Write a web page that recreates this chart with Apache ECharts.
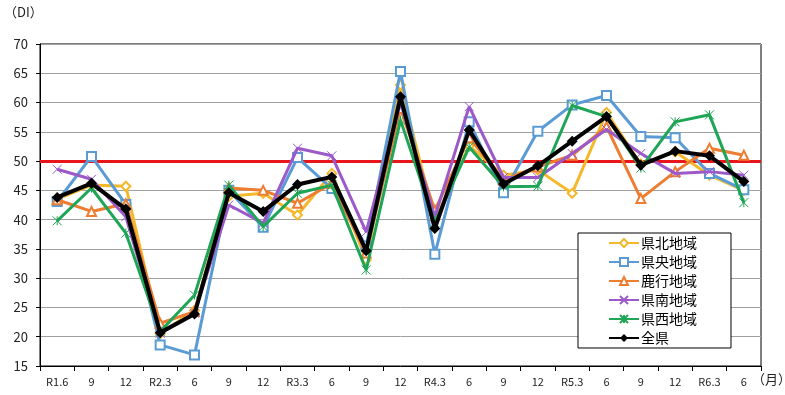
<!DOCTYPE html>
<html>
<head>
<meta charset="utf-8">
<script src="https://cdn.jsdelivr.net/npm/echarts@6/dist/echarts.min.js"></script>
<style>
html,body{margin:0;padding:0;background:#fff;}
#chart{width:785px;height:395px;}
</style>
</head>
<body>
<div id="chart"></div>
<script>
const categories = ['R1.6','9','12','R2.3','6','9','12','R3.3','6','9','12','R4.3','6','9','12','R5.3','6','9','12','R6.3','6'];
const seriesNames = ['県北地域','県央地域','鹿行地域','県南地域','県西地域','全県'];
const kenpoku = [43.5,45.9,45.7,20.5,24.5,44.0,44.5,40.8,47.9,33.1,63.0,40.0,52.6,47.6,48.5,44.5,58.3,49.5,51.6,47.6,45.0];
const kenou   = [43.1,50.8,42.6,18.6,16.9,45.0,38.7,50.6,45.3,35.5,65.3,34.1,56.7,44.6,55.1,59.6,61.2,54.2,54.0,47.9,45.1];
const rokkou  = [43.4,41.4,42.7,22.3,24.3,45.4,45.0,42.8,46.2,34.3,59.0,41.6,54.0,46.8,49.0,51.0,55.9,43.6,48.2,52.2,51.0];
const kennan  = [48.6,46.9,40.5,20.6,24.0,42.5,39.4,52.2,50.9,37.9,60.0,40.5,59.3,47.2,47.2,51.3,55.4,51.3,47.9,48.2,47.6];
const kensei  = [39.8,45.4,37.7,20.9,27.1,45.9,38.8,44.5,45.9,31.4,57.0,39.5,52.4,45.6,45.7,59.5,57.6,48.8,56.7,57.9,42.9];
const zenken  = [43.8,46.2,41.8,20.7,23.9,44.6,41.4,46.0,47.3,34.7,61.0,38.5,55.3,46.1,49.2,53.4,57.6,49.3,51.7,50.9,46.5];
const referenceLevel = 50;
const yTicks = {min: 15, max: 70, interval: 5};

const colors = ['#F4B92A','#5B9BD5','#ED7D31','#9B59C9','#1EA556','#000000'];
const xPath = 'path://M0,0L10,10M10,0L0,10';
const starPath = 'path://M0,0L10,10M10,0L0,10M5,0L5,10';
const symbols = ['emptyDiamond','emptyRect','emptyTriangle',xPath,starPath,'diamond'];
const dataSets = [kenpoku, kenou, rokkou, kennan, kensei, zenken];
const FONT = '"Noto Sans CJK JP", "Noto Sans", sans-serif';

const series = dataSets.map((d, i) => {
  const isAll = i === 5;
  const isPath = i === 3 || i === 4;
  return {
    name: seriesNames[i],
    type: 'line',
    data: d,
    symbol: symbols[i],
    symbolSize: isAll ? 11 : 9,
    showAllSymbol: true,
    z: 2 + i,
    lineStyle: {color: colors[i], width: isAll ? 4 : 3},
    itemStyle: isPath ? {
      color: colors[i],
      borderColor: colors[i],
      borderWidth: 1
    } : {
      color: colors[i]
    },
    emphasis: {disabled: true},
    animation: false,
    markLine: i === 0 ? {
      silent: true,
      symbol: 'none',
      label: {show: false},
      lineStyle: {color: '#E8161B', width: 3, type: 'solid'},
      data: [{yAxis: referenceLevel}],
      z: 1
    } : undefined
  };
});

const chart = echarts.init(document.getElementById('chart'), null, {renderer: 'canvas'});
chart.setOption({
  animation: false,
  backgroundColor: '#fff',
  textStyle: {fontFamily: FONT},
  grid: {left: 40, right: 24, top: 44, bottom: 29, show: true, borderColor: '#000', borderWidth: 1, containLabel: false},
  graphic: [
    {type: 'text', left: 4, top: 6, style: {text: '（DI）', font: '13px ' + FONT, fill: '#222'}},
    {type: 'text', left: 752, top: 373, style: {text: '（月）', font: '13px ' + FONT, fill: '#222'}}
  ],
  legend: {
    orient: 'vertical',
    left: 578,
    top: 233,
    backgroundColor: '#fff',
    borderColor: '#000',
    borderWidth: 1,
    padding: [3, 34, 3, 30],
    itemWidth: 30,
    itemHeight: 10,
    itemGap: 5,
    textStyle: {fontFamily: FONT, fontSize: 14, color: '#000', padding: [0,0,0,-3]},
    data: seriesNames
  },
  xAxis: {
    type: 'category',
    data: categories,
    boundaryGap: true,
    axisLine: {lineStyle: {color: '#000', width: 1}},
    axisTick: {show: true, alignWithLabel: false, length: 5, inside: false, lineStyle: {color: '#000'}},
    axisLabel: {interval: 0, margin: 10, fontSize: 11, color: '#222', fontFamily: FONT},
    splitLine: {show: false}
  },
  yAxis: {
    type: 'value',
    min: yTicks.min,
    max: yTicks.max,
    interval: yTicks.interval,
    axisLine: {show: true, lineStyle: {color: '#000', width: 1}},
    axisTick: {show: true, length: 4, lineStyle: {color: '#000'}},
    axisLabel: {margin: 12, fontSize: 13, color: '#222', fontFamily: FONT},
    splitLine: {show: true, lineStyle: {color: '#a0a0a0', width: 1}}
  },
  series: series
});
</script>
</body>
</html>
